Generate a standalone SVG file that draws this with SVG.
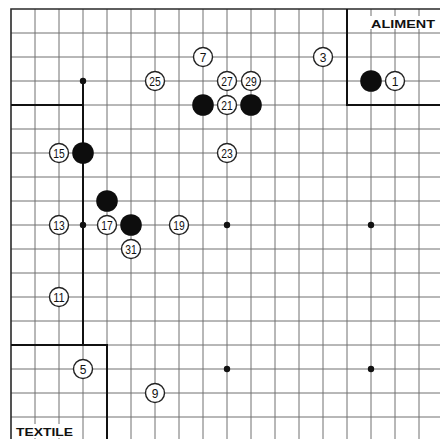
<svg xmlns="http://www.w3.org/2000/svg" width="440" height="439" viewBox="0 0 440 439">
<defs>
<style>
.g line{stroke:#707070;stroke-width:1}
.edge{stroke:#2a2a2a;stroke-width:1.6;fill:none}
.zone{stroke:#111;stroke-width:2;fill:none}
.w circle{fill:#fff;stroke:#222;stroke-width:1.4}
.w text{font-family:"Liberation Sans Narrow","Liberation Sans",Arial,sans-serif;font-size:12px;fill:#111;text-anchor:middle}
.b{fill:#0d0d0d}
.star{fill:#111}
.lbl{font-family:"Liberation Sans",Arial,sans-serif;font-weight:bold;font-size:11.5px;fill:#111}
</style>
</defs>
<rect width="440" height="439" fill="#fff"/>
<g id="grid" class="g">
<line x1="35" y1="9" x2="35" y2="439"/><line x1="59" y1="9" x2="59" y2="439"/><line x1="83" y1="9" x2="83" y2="439"/><line x1="107" y1="9" x2="107" y2="439"/><line x1="131" y1="9" x2="131" y2="439"/><line x1="155" y1="9" x2="155" y2="439"/><line x1="179" y1="9" x2="179" y2="439"/><line x1="203" y1="9" x2="203" y2="439"/><line x1="227" y1="9" x2="227" y2="439"/><line x1="251" y1="9" x2="251" y2="439"/><line x1="275" y1="9" x2="275" y2="439"/><line x1="299" y1="9" x2="299" y2="439"/><line x1="323" y1="9" x2="323" y2="439"/><line x1="347" y1="9" x2="347" y2="439"/><line x1="371" y1="9" x2="371" y2="439"/><line x1="395" y1="9" x2="395" y2="439"/><line x1="419" y1="9" x2="419" y2="439"/>
<line x1="11" y1="33" x2="440" y2="33"/><line x1="11" y1="57" x2="440" y2="57"/><line x1="11" y1="81" x2="440" y2="81"/><line x1="11" y1="105" x2="440" y2="105"/><line x1="11" y1="129" x2="440" y2="129"/><line x1="11" y1="153" x2="440" y2="153"/><line x1="11" y1="177" x2="440" y2="177"/><line x1="11" y1="201" x2="440" y2="201"/><line x1="11" y1="225" x2="440" y2="225"/><line x1="11" y1="249" x2="440" y2="249"/><line x1="11" y1="273" x2="440" y2="273"/><line x1="11" y1="297" x2="440" y2="297"/><line x1="11" y1="321" x2="440" y2="321"/><line x1="11" y1="345" x2="440" y2="345"/><line x1="11" y1="369" x2="440" y2="369"/><line x1="11" y1="393" x2="440" y2="393"/><line x1="11" y1="417" x2="440" y2="417"/>
</g>
<path class="edge" d="M11 439V9H440"/>
<g id="zones">
<path class="zone" d="M347 9V105H440"/>
<path class="zone" d="M11 105H83M83 81V345M11 345H107V439"/>
</g>
<g id="stars">
<circle class="star" cx="83" cy="81" r="3.2"/><circle class="star" cx="83" cy="225" r="3.2"/><circle class="star" cx="227" cy="225" r="3.2"/><circle class="star" cx="371" cy="225" r="3.2"/><circle class="star" cx="227" cy="369" r="3.2"/><circle class="star" cx="371" cy="369" r="3.2"/>
</g>
<g id="black-stones">
<circle class="b" cx="371" cy="81" r="10.8"/><circle class="b" cx="203" cy="105" r="10.8"/><circle class="b" cx="251" cy="105" r="10.8"/><circle class="b" cx="83" cy="153" r="10.8"/><circle class="b" cx="107" cy="201" r="10.8"/><circle class="b" cx="131" cy="225" r="10.8"/>
</g>
<g id="w1" class="w"><circle cx="395" cy="81" r="9.5"/><text x="395" y="85.5">1</text></g>
<g id="w3" class="w"><circle cx="323" cy="57" r="9.5"/><text x="323" y="61.5">3</text></g>
<g id="w5" class="w"><circle cx="83" cy="369" r="9.5"/><text x="83" y="373.5">5</text></g>
<g id="w7" class="w"><circle cx="203" cy="57" r="9.5"/><text x="203" y="61.5">7</text></g>
<g id="w9" class="w"><circle cx="155" cy="393" r="9.5"/><text x="155" y="397.5">9</text></g>
<g id="w11" class="w"><circle cx="59" cy="297" r="9.5"/><text x="59" y="301.5" textLength="11.5" lengthAdjust="spacingAndGlyphs">11</text></g>
<g id="w13" class="w"><circle cx="59" cy="225" r="9.5"/><text x="59" y="229.5" textLength="11.5" lengthAdjust="spacingAndGlyphs">13</text></g>
<g id="w15" class="w"><circle cx="59" cy="153" r="9.5"/><text x="59" y="157.5" textLength="11.5" lengthAdjust="spacingAndGlyphs">15</text></g>
<g id="w17" class="w"><circle cx="107" cy="225" r="9.5"/><text x="107" y="229.5" textLength="11.5" lengthAdjust="spacingAndGlyphs">17</text></g>
<g id="w19" class="w"><circle cx="179" cy="225" r="9.5"/><text x="179" y="229.5" textLength="11.5" lengthAdjust="spacingAndGlyphs">19</text></g>
<g id="w21" class="w"><circle cx="227" cy="105" r="9.5"/><text x="227" y="109.5" textLength="11.5" lengthAdjust="spacingAndGlyphs">21</text></g>
<g id="w23" class="w"><circle cx="227" cy="153" r="9.5"/><text x="227" y="157.5" textLength="11.5" lengthAdjust="spacingAndGlyphs">23</text></g>
<g id="w25" class="w"><circle cx="155" cy="81" r="9.5"/><text x="155" y="85.5" textLength="11.5" lengthAdjust="spacingAndGlyphs">25</text></g>
<g id="w27" class="w"><circle cx="227" cy="81" r="9.5"/><text x="227" y="85.5" textLength="11.5" lengthAdjust="spacingAndGlyphs">27</text></g>
<g id="w29" class="w"><circle cx="251" cy="81" r="9.5"/><text x="251" y="85.5" textLength="11.5" lengthAdjust="spacingAndGlyphs">29</text></g>
<g id="w31" class="w"><circle cx="131" cy="249" r="9.5"/><text x="131" y="253.5" textLength="11.5" lengthAdjust="spacingAndGlyphs">31</text></g>
<rect x="368" y="16" width="70" height="13" fill="#fff"/>
<text class="lbl" x="371" y="27.5" textLength="64" lengthAdjust="spacingAndGlyphs">ALIMENT</text>
<rect x="14" y="424" width="64" height="14" fill="#fff"/>
<text class="lbl" x="16" y="436" textLength="57" lengthAdjust="spacingAndGlyphs">TEXTILE</text>
</svg>
